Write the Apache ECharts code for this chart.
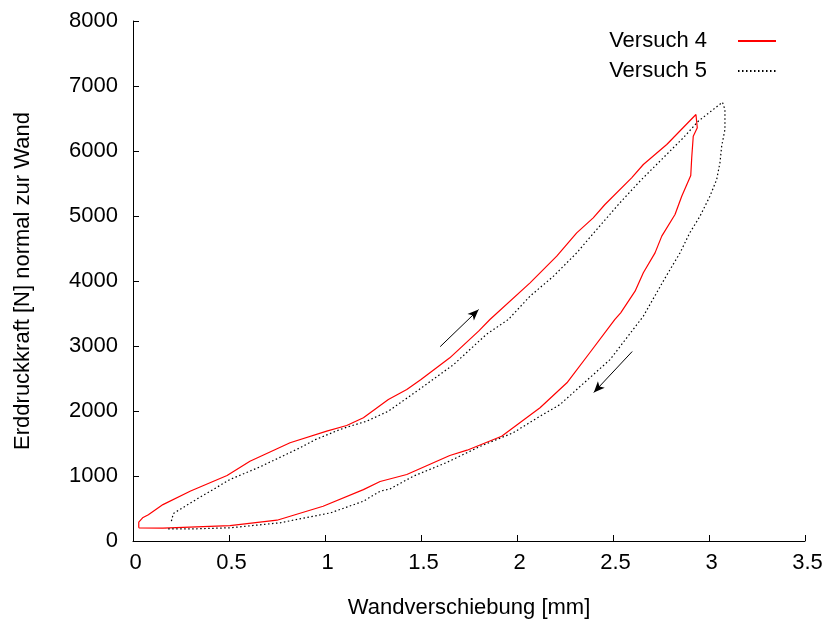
<!DOCTYPE html>
<html>
<head>
<meta charset="utf-8">
<script src="https://cdn.jsdelivr.net/npm/echarts@6/dist/echarts.min.js"></script>
<style>
  html, body { margin: 0; padding: 0; background: #fff; }
  #chart { width: 827px; height: 627px; }
</style>
</head>
<body>
<div id="chart"></div>
<script>
// Versuch 4 - Wandverschiebung [mm] / Erddruckkraft [N], in drawing order (loop)
var v4x = [0.03, 0.03, 0.05, 0.08, 0.156, 0.3, 0.49, 0.609, 0.818, 1.009, 1.113, 1.2, 1.33, 1.426, 1.5, 1.65, 1.8, 1.859,
           2.068, 2.207, 2.311, 2.397, 2.458, 2.597, 2.658, 2.78, 2.932,
           2.939, 2.918, 2.91, 2.905, 2.858, 2.823, 2.754, 2.719, 2.658, 2.615, 2.54, 2.51, 2.38, 2.26, 2.12,
           1.92, 1.74, 1.65, 1.426, 1.287, 1.2, 0.99, 0.75, 0.505, 0.156, 0.03];
var v4y = [205, 290, 357, 405, 560, 770, 1008, 1228, 1511, 1690, 1777, 1895, 2177, 2330, 2485, 2818, 3228, 3408,
           3972, 4382, 4741, 4972, 5177, 5587, 5792, 6100, 6562,
           6357, 6228, 5895, 5623, 5305, 5023, 4690, 4433, 4126, 3844, 3510, 3408, 2900, 2434, 2050,
           1612, 1397, 1315, 1023, 915, 790, 535, 320, 238, 197, 203];

// Versuch 5
var v5x = [0.2, 0.21, 0.33, 0.505, 0.661, 0.87, 0.95, 1.078, 1.13, 1.217, 1.33, 1.49, 1.67, 1.84, 1.955,
           2.068, 2.19, 2.311, 2.415, 2.536, 2.64, 2.753, 2.866, 2.944, 3.07, 3.075,
           3.083, 3.083, 3.066, 3.057, 3.04, 3.005, 2.953, 2.9, 2.849, 2.77, 2.658, 2.485, 2.224, 2.12,
           1.98, 1.81, 1.63, 1.46, 1.34, 1.287, 1.2, 1.03, 0.766, 0.505, 0.33, 0.17];
var v5y = [305, 423, 640, 946, 1140, 1434, 1560, 1715, 1766, 1843, 1997, 2330, 2715, 3177, 3408,
           3767, 4074, 4433, 4792, 5203, 5535, 5869, 6203, 6458, 6750, 6766,
           6638, 6330, 6074, 5818, 5562, 5305, 4997, 4741, 4433, 4040, 3459, 2792, 2100, 1920,
           1665, 1458, 1203, 997, 803, 766, 612, 434, 280, 203, 188, 188];

// arrows: start -> end
var arrowUp = [[1.6, 2990], [1.8, 3560]];
var arrowDown = [[2.6, 2915], [2.4, 2285]];

var xTicks = [0, 3.5, 0.5];   // min, max, interval
var yTicks = [0, 8000, 1000];

function pairs(xs, ys) {
    var out = [];
    for (var i = 0; i < xs.length; i++) {
        out.push([xs[i], ys[i]]);
    }
    return out;
}

var font = 'Liberation Sans, Arial, sans-serif';
var myChart = echarts.init(document.getElementById('chart'), null, { renderer: 'canvas' });

var option = {
    animation: false,
    backgroundColor: '#ffffff',
    grid: { left: 133, right: 22, top: 21, bottom: 86 },
    legend: {
        orient: 'vertical',
        right: 50,
        top: 30,
        align: 'right',
        itemWidth: 38,
        itemHeight: 20,
        itemGap: 8,
        padding: 0,
        itemStyle: { opacity: 0 },
        textStyle: { fontFamily: font, fontSize: 22, lineHeight: 22, color: '#000', padding: [0, 26, 0, 0] },
        data: ['Versuch 4', 'Versuch 5']
    },
    xAxis: {
        type: 'value',
        min: xTicks[0], max: xTicks[1], interval: xTicks[2],
        name: 'Wandverschiebung [mm]',
        nameLocation: 'middle',
        nameGap: 56,
        nameTextStyle: { fontFamily: font, fontSize: 22, color: '#000' },
        axisLine: { lineStyle: { color: '#000', width: 1 } },
        axisTick: { inside: true, length: 6, lineStyle: { color: '#000' } },
        axisLabel: { fontFamily: font, fontSize: 22, color: '#000', margin: 11, padding: [0, 0, 0, 5] },
        splitLine: { show: false }
    },
    yAxis: {
        type: 'value',
        min: yTicks[0], max: yTicks[1], interval: yTicks[2],
        name: 'Erddruckkraft [N] normal zur Wand',
        nameLocation: 'middle',
        nameGap: 99,
        nameTextStyle: { fontFamily: font, fontSize: 22, color: '#000' },
        axisLine: { show: true, lineStyle: { color: '#000', width: 1 } },
        axisTick: { show: true, inside: true, length: 6, lineStyle: { color: '#000' } },
        axisLabel: {
            fontFamily: font, fontSize: 22, color: '#000', margin: 15,
            formatter: function (v) { return String(v); }
        },
        splitLine: { show: false }
    },
    series: [
        {
            name: 'Versuch 4',
            type: 'line',
            data: pairs(v4x, v4y),
            symbol: 'none',
            smooth: false,
            color: '#ff0000',
            lineStyle: { color: '#ff0000', width: 1.2 },
            markLine: {
                silent: true,
                symbol: ['none', 'arrow'],
                symbolSize: [7, 11],
                label: { show: false },
                lineStyle: { color: '#000', type: 'solid', width: 1 },
                data: [
                    [{ coord: arrowUp[0] }, { coord: arrowUp[1] }],
                    [{ coord: arrowDown[0] }, { coord: arrowDown[1] }]
                ]
            }
        },
        {
            name: 'Versuch 5',
            type: 'line',
            data: pairs(v5x, v5y),
            symbol: 'none',
            smooth: false,
            color: '#000000',
            lineStyle: { color: '#000', width: 1.2, type: [1.5, 2.5] }
        }
    ]
};

myChart.setOption(option);
</script>
</body>
</html>
